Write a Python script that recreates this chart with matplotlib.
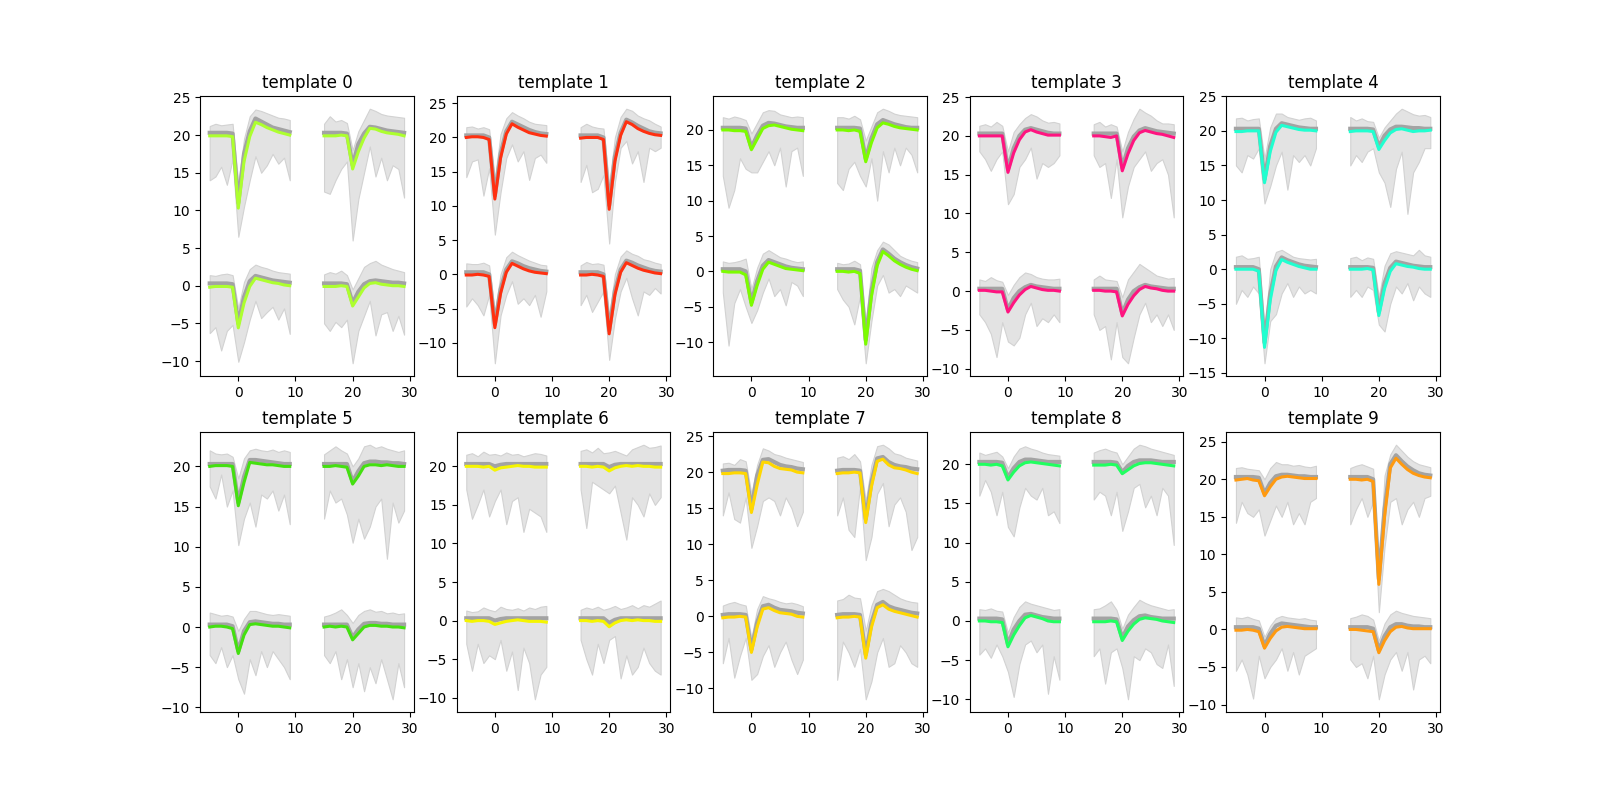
import numpy as np
import matplotlib
matplotlib.use("Agg")
import matplotlib.pyplot as plt

# sample times of one waveform window
t = [-5, -4, -3, -2, -1, 0, 1, 2, 3, 4, 5, 6, 7, 8, 9]

# channel placement (x shift, y shift) for the 4 channels
ch_dx = [0, 20, 0, 20]
ch_dy = [20, 20, 0, 0]

colors = ["#adff2f", "#ff3010", "#7cfc00", "#ff1480", "#20ffd0",
          "#44e010", "#f5f500", "#ffd700", "#20ff60", "#ff9a10"]

# template 0
wave_0 = [[-0.1, -0.1, -0.1, -0.1, -0.2, -9.7, -3.5, -0.2, 1.7, 1.4, 1.0, 0.7, 0.4, 0.2, 0.0],
          [-0.1, -0.1, -0.1, 0.0, -0.1, -4.5, -2.2, -0.4, 0.9, 0.8, 0.5, 0.3, 0.2, 0.1, -0.1],
          [-0.2, -0.1, -0.1, -0.1, -0.2, -5.6, -2.3, -0.1, 1.0, 0.8, 0.6, 0.4, 0.3, 0.1, 0.0],
          [-0.1, -0.1, -0.1, 0.0, -0.1, -2.7, -1.5, -0.3, 0.3, 0.4, 0.2, 0.1, 0.0, 0.0, -0.1]]
mean_0 = [[0.3, 0.3, 0.3, 0.3, 0.2, -9.0, -2.5, 0.5, 2.2, 1.8, 1.4, 1.0, 0.8, 0.6, 0.4],
          [0.3, 0.3, 0.3, 0.3, 0.2, -4.0, -1.2, 0.2, 1.1, 1.0, 0.8, 0.6, 0.5, 0.4, 0.3],
          [0.3, 0.3, 0.3, 0.3, 0.2, -5.0, -1.5, 0.6, 1.3, 1.1, 0.9, 0.7, 0.6, 0.5, 0.4],
          [0.3, 0.3, 0.3, 0.3, 0.2, -2.3, -0.8, 0.2, 0.6, 0.7, 0.6, 0.5, 0.4, 0.4, 0.3]]
low_0 = [[-6.0, -5.5, -4.2, -6.6, -3.2, -13.5, -9.5, -6.0, -2.8, -5.0, -4.0, -2.5, -3.8, -3.0, -6.0],
         [-7.5, -7.8, -6.0, -4.5, -3.5, -14.0, -8.5, -5.0, -1.5, -5.5, -3.0, -6.0, -4.0, -4.5, -8.3],
         [-6.3, -5.5, -8.6, -6.0, -5.2, -10.1, -7.5, -4.5, -2.0, -4.3, -3.5, -2.8, -4.5, -3.0, -6.4],
         [-5.0, -6.0, -4.8, -5.5, -4.5, -10.3, -6.0, -4.0, -2.0, -6.6, -3.8, -3.5, -6.0, -4.0, -6.5]]
high_0 = [[1.2, 1.5, 1.3, 1.4, 1.5, -6.5, -0.5, 2.5, 3.4, 3.2, 2.9, 2.6, 2.3, 2.2, 2.0],
          [1.5, 2.5, 1.8, 2.0, 1.6, -2.0, 0.5, 2.0, 3.5, 3.2, 2.8, 2.6, 2.5, 2.4, 2.3],
          [1.4, 1.3, 1.5, 1.6, 1.4, -3.0, 0.5, 2.2, 2.8, 2.5, 2.3, 2.0, 1.8, 1.7, 1.6],
          [1.5, 1.8, 1.6, 2.0, 1.4, -0.5, 1.0, 2.5, 3.0, 3.3, 2.8, 2.5, 2.2, 2.0, 1.8]]

# template 1
wave_1 = [[0.0, 0.1, 0.1, 0.0, -0.3, -9.0, -3.0, 0.5, 2.0, 1.5, 1.1, 0.7, 0.5, 0.3, 0.2],
          [-0.1, 0.0, 0.0, 0.0, -0.3, -10.5, -3.5, 0.3, 2.3, 1.9, 1.3, 0.9, 0.6, 0.4, 0.3],
          [-0.1, -0.1, 0.0, -0.1, -0.3, -7.8, -2.8, 0.3, 1.6, 1.2, 0.8, 0.5, 0.3, 0.2, 0.1],
          [-0.1, -0.1, 0.0, -0.1, -0.3, -8.7, -3.0, 0.3, 1.7, 1.3, 0.9, 0.6, 0.4, 0.2, 0.1]]
mean_1 = [[0.3, 0.3, 0.3, 0.3, 0.0, -8.5, -2.4, 0.9, 2.3, 1.9, 1.5, 1.1, 0.8, 0.6, 0.5],
          [0.3, 0.3, 0.3, 0.3, 0.0, -9.9, -2.8, 0.7, 2.6, 2.2, 1.7, 1.3, 0.9, 0.7, 0.6],
          [0.3, 0.3, 0.3, 0.3, 0.0, -7.3, -2.2, 0.7, 1.9, 1.6, 1.2, 0.9, 0.7, 0.5, 0.4],
          [0.3, 0.3, 0.3, 0.3, 0.0, -8.2, -2.4, 0.7, 2.0, 1.7, 1.3, 1.0, 0.7, 0.5, 0.4]]
low_1 = [[-5.8, -3.5, -3.2, -8.5, -4.5, -14.2, -8.0, -3.0, -1.0, -3.5, -2.0, -6.2, -3.0, -2.5, -3.7],
         [-6.5, -4.0, -8.0, -7.5, -5.5, -15.5, -6.5, -1.5, -0.5, -3.8, -2.0, -6.5, -1.5, -2.0, -1.5],
         [-4.7, -3.5, -4.5, -6.0, -3.0, -13.0, -6.0, -3.0, -1.0, -4.3, -3.5, -4.5, -3.0, -6.2, -2.5],
         [-4.5, -3.0, -5.5, -4.0, -2.5, -12.5, -6.5, -2.5, -0.5, -3.5, -6.0, -2.5, -3.0, -2.0, -2.8]]
high_1 = [[1.5, 1.6, 1.3, 1.5, 1.2, -6.0, 0.5, 2.8, 3.7, 3.2, 2.8, 2.3, 2.0, 1.9, 1.8],
          [1.5, 2.0, 1.6, 1.4, 1.3, -7.0, 0.0, 3.0, 4.2, 3.9, 3.2, 2.8, 2.5, 2.0, 1.6],
          [1.6, 1.5, 1.5, 1.7, 1.3, -5.5, 0.0, 2.5, 3.3, 2.8, 2.4, 2.0, 1.7, 1.4, 1.3],
          [1.3, 1.8, 1.5, 1.6, 1.4, -6.0, 0.0, 2.6, 3.5, 3.0, 2.7, 2.2, 2.0, 1.7, 1.5]]

# template 2
wave_2 = [[0.0, 0.0, -0.1, -0.1, -0.2, -2.8, -1.3, 0.2, 0.6, 0.7, 0.5, 0.3, 0.1, 0.0, -0.1],
          [0.0, 0.0, -0.1, 0.0, -0.2, -4.5, -1.8, 0.3, 1.0, 0.8, 0.5, 0.3, 0.2, 0.1, 0.0],
          [0.0, -0.1, -0.1, -0.1, -0.5, -4.8, -2.0, 0.3, 1.3, 1.0, 0.7, 0.4, 0.3, 0.2, 0.1],
          [0.0, 0.0, -0.1, 0.0, -0.3, -10.3, -3.5, 0.8, 2.8, 2.2, 1.5, 1.0, 0.6, 0.3, 0.1]]
mean_2 = [[0.3, 0.3, 0.3, 0.3, 0.2, -2.5, -0.8, 0.6, 1.0, 0.9, 0.7, 0.5, 0.4, 0.3, 0.3],
          [0.3, 0.3, 0.3, 0.3, 0.2, -4.1, -1.2, 0.8, 1.4, 1.1, 0.8, 0.6, 0.4, 0.3, 0.3],
          [0.3, 0.3, 0.3, 0.3, 0.0, -4.4, -1.4, 0.8, 1.6, 1.3, 1.0, 0.7, 0.5, 0.4, 0.3],
          [0.3, 0.3, 0.3, 0.3, 0.1, -9.7, -2.8, 1.3, 3.1, 2.5, 1.8, 1.3, 0.9, 0.6, 0.4]]
low_2 = [[-6.5, -11.0, -8.5, -4.0, -5.5, -6.0, -6.0, -4.5, -3.0, -5.0, -2.5, -8.0, -3.0, -2.5, -6.5],
         [-7.5, -8.5, -5.5, -4.5, -6.5, -8.0, -4.0, -10.0, -3.0, -6.0, -2.5, -5.0, -2.5, -3.5, -6.0],
         [-3.0, -10.5, -4.5, -2.5, -5.0, -7.3, -5.5, -3.0, -1.0, -3.5, -2.5, -4.8, -1.5, -2.0, -3.5],
         [-2.5, -4.0, -5.0, -7.5, -3.5, -13.0, -7.0, -2.0, -0.5, -3.0, -2.5, -3.5, -2.0, -2.5, -3.0]]
high_2 = [[1.8, 1.6, 1.9, 1.7, 1.4, -0.5, 1.0, 2.5, 2.8, 2.7, 2.2, 2.0, 1.8, 1.9, 1.8],
          [1.8, 1.8, 1.6, 2.0, 1.5, -1.5, 0.5, 2.5, 3.0, 2.7, 2.3, 2.1, 2.0, 1.9, 1.8],
          [1.4, 1.2, 1.3, 1.5, 1.8, -2.5, 0.5, 2.5, 3.0, 2.5, 2.0, 1.8, 1.5, 1.3, 1.4],
          [1.2, 1.0, 1.1, 1.5, 1.0, -7.5, 0.5, 3.0, 4.2, 3.8, 3.0, 2.2, 1.8, 1.5, 1.3]]

# template 3
wave_3 = [[0.0, 0.0, 0.0, 0.0, 0.0, -4.7, -2.2, -0.5, 0.5, 0.8, 0.5, 0.3, 0.1, 0.1, 0.1],
          [0.0, 0.0, -0.1, -0.2, 0.0, -4.5, -2.3, -0.6, 0.4, 0.7, 0.5, 0.3, 0.2, 0.0, -0.2],
          [0.1, 0.1, 0.0, -0.1, -0.1, -2.7, -1.5, -0.5, 0.2, 0.6, 0.4, 0.2, 0.1, 0.1, 0.0],
          [0.1, 0.1, 0.0, 0.0, -0.1, -3.2, -1.7, -0.6, 0.2, 0.6, 0.4, 0.3, 0.1, 0.0, 0.0]]
mean_3 = [[0.3, 0.3, 0.3, 0.3, 0.3, -4.3, -1.6, 0.0, 0.8, 1.0, 0.8, 0.6, 0.4, 0.3, 0.3],
          [0.3, 0.3, 0.3, 0.3, 0.3, -4.1, -1.6, -0.1, 0.7, 1.0, 0.8, 0.6, 0.5, 0.4, 0.3],
          [0.3, 0.3, 0.3, 0.3, 0.3, -2.4, -0.9, 0.0, 0.5, 0.8, 0.6, 0.5, 0.4, 0.3, 0.3],
          [0.3, 0.3, 0.3, 0.3, 0.3, -2.9, -1.1, 0.0, 0.5, 0.8, 0.6, 0.5, 0.4, 0.3, 0.3]]
low_3 = [[-2.0, -3.0, -4.5, -3.0, -2.0, -8.8, -7.5, -4.0, -3.0, -1.5, -5.5, -3.5, -4.0, -3.5, -2.5],
         [-2.5, -4.0, -3.5, -8.0, -3.0, -10.5, -6.5, -4.0, -3.0, -2.0, -4.5, -3.5, -3.0, -5.0, -10.5],
         [-3.0, -4.0, -5.5, -8.5, -4.0, -6.5, -7.0, -6.0, -3.0, -1.5, -4.5, -3.5, -4.0, -3.0, -4.0],
         [-3.0, -5.0, -4.5, -8.8, -4.0, -8.5, -9.3, -6.0, -3.0, -1.5, -4.0, -3.0, -4.5, -3.0, -5.0]]
high_3 = [[1.3, 1.5, 1.2, 1.8, 1.3, -2.0, 0.5, 1.5, 2.3, 2.8, 2.5, 2.0, 1.7, 1.8, 1.6],
          [1.5, 1.8, 1.2, 1.5, 1.2, -2.0, 0.5, 2.2, 3.5, 3.0, 2.6, 2.0, 1.6, 1.6, 1.5],
          [1.5, 1.3, 1.8, 1.4, 1.2, -0.5, 0.8, 1.8, 2.4, 2.2, 1.8, 1.6, 1.5, 1.5, 1.6],
          [1.5, 2.0, 1.5, 1.4, 1.3, -0.8, 1.5, 2.5, 3.5, 3.0, 2.5, 2.0, 1.8, 1.6, 1.7]]

# template 4
wave_4 = [[-0.1, -0.1, 0.0, 0.0, 0.0, -7.5, -3.0, -0.2, 0.8, 0.6, 0.4, 0.2, 0.1, 0.1, 0.0],
          [-0.1, 0.0, 0.0, 0.0, -0.1, -2.7, -1.4, -0.3, 0.2, 0.3, 0.1, -0.1, 0.0, 0.0, 0.1],
          [0.0, 0.0, 0.0, 0.0, -0.3, -11.3, -4.5, -0.2, 1.4, 1.0, 0.7, 0.4, 0.2, 0.0, 0.0],
          [0.0, 0.0, 0.0, 0.1, -0.1, -6.7, -2.8, -0.3, 0.8, 0.6, 0.4, 0.3, 0.1, 0.0, 0.0]]
mean_4 = [[0.3, 0.3, 0.3, 0.3, 0.3, -7.0, -2.2, 0.3, 1.1, 0.9, 0.7, 0.5, 0.4, 0.3, 0.3],
          [0.3, 0.3, 0.3, 0.3, 0.2, -2.3, -0.7, 0.2, 0.6, 0.6, 0.5, 0.4, 0.4, 0.3, 0.3],
          [0.3, 0.3, 0.3, 0.3, 0.0, -10.6, -3.6, 0.4, 1.7, 1.3, 1.0, 0.7, 0.5, 0.4, 0.3],
          [0.3, 0.3, 0.3, 0.3, 0.2, -6.2, -2.0, 0.2, 1.1, 0.9, 0.7, 0.5, 0.4, 0.3, 0.3]]
low_4 = [[-5.0, -6.0, -3.5, -4.0, -2.5, -10.5, -8.0, -5.0, -3.0, -8.5, -3.5, -4.5, -3.5, -5.0, -2.5],
         [-5.0, -3.5, -4.5, -3.0, -2.5, -6.0, -7.5, -11.0, -5.5, -3.0, -12.0, -6.0, -4.5, -2.5, -2.5],
         [-5.0, -3.0, -4.0, -2.5, -3.5, -13.6, -7.5, -6.5, -3.5, -2.0, -4.0, -2.5, -3.5, -3.0, -3.5],
         [-4.0, -3.0, -4.0, -2.5, -3.0, -8.0, -9.0, -5.0, -2.5, -3.5, -2.0, -4.5, -2.5, -3.5, -4.0]]
high_4 = [[1.8, 1.9, 1.5, 1.7, 1.8, -4.0, 0.5, 2.5, 2.5, 2.0, 1.8, 1.6, 1.8, 1.9, 1.5],
          [2.0, 1.5, 1.8, 1.4, 1.3, -1.0, 0.5, 1.5, 2.5, 3.2, 2.8, 2.4, 2.2, 2.3, 2.0],
          [1.8, 2.0, 1.5, 1.6, 1.8, -9.0, 0.0, 2.5, 2.8, 2.3, 1.8, 1.6, 1.5, 1.4, 1.5],
          [1.6, 1.8, 1.3, 1.7, 1.5, -4.0, 0.5, 2.3, 2.6, 2.4, 2.2, 2.0, 2.8, 2.0, 1.8]]

# template 5
wave_5 = [[0.0, 0.1, 0.1, 0.1, 0.0, -4.9, -2.0, 0.5, 0.4, 0.3, 0.2, 0.2, 0.1, 0.0, 0.0],
          [0.0, 0.0, 0.1, 0.0, -0.1, -2.2, -1.2, 0.0, 0.2, 0.2, 0.1, 0.2, 0.1, 0.0, 0.0],
          [0.0, 0.1, 0.1, 0.0, -0.2, -3.3, -1.0, 0.3, 0.4, 0.3, 0.2, 0.1, 0.1, 0.0, -0.1],
          [0.0, 0.1, 0.0, 0.1, 0.0, -1.6, -0.8, 0.0, 0.2, 0.2, 0.1, 0.1, 0.0, 0.0, -0.1]]
mean_5 = [[0.3, 0.3, 0.3, 0.3, 0.3, -4.5, -1.3, 0.8, 0.8, 0.7, 0.6, 0.5, 0.4, 0.3, 0.3],
          [0.3, 0.3, 0.3, 0.3, 0.3, -1.9, -0.6, 0.4, 0.6, 0.6, 0.5, 0.5, 0.4, 0.4, 0.3],
          [0.3, 0.3, 0.3, 0.3, 0.1, -3.0, -0.5, 0.6, 0.7, 0.6, 0.5, 0.4, 0.4, 0.3, 0.3],
          [0.3, 0.3, 0.3, 0.3, 0.3, -1.3, -0.3, 0.4, 0.5, 0.5, 0.4, 0.4, 0.3, 0.3, 0.3]]
low_5 = [[-2.5, -4.0, -1.0, -5.0, -3.0, -9.8, -6.5, -4.5, -7.5, -3.5, -4.0, -3.0, -5.5, -3.5, -7.2],
         [-6.5, -3.0, -4.5, -4.0, -6.0, -9.5, -6.5, -9.0, -7.5, -5.0, -4.0, -11.5, -4.5, -7.0, -5.5],
         [-3.5, -4.5, -2.5, -5.0, -3.5, -6.5, -8.3, -4.0, -6.0, -3.0, -5.0, -3.0, -4.0, -5.0, -6.5],
         [-3.5, -4.5, -3.0, -6.5, -4.0, -7.5, -4.5, -8.0, -5.0, -7.0, -4.0, -6.5, -9.0, -4.5, -7.5]]
high_5 = [[2.0, 1.6, 1.5, 1.6, 1.2, -1.5, 1.0, 2.0, 2.2, 2.0, 1.9, 2.1, 1.8, 2.0, 1.8],
          [1.5, 2.0, 2.5, 2.0, 1.6, 0.0, 1.0, 2.5, 2.7, 2.3, 2.5, 2.2, 2.0, 1.8, 2.0],
          [1.8, 1.6, 1.4, 1.5, 1.3, -0.5, 1.0, 2.0, 2.0, 1.8, 1.6, 1.5, 1.6, 1.5, 1.4],
          [1.3, 1.5, 1.8, 2.2, 1.5, 0.5, 1.5, 2.0, 2.2, 1.9, 2.0, 1.7, 1.8, 1.6, 1.7]]

# template 6
wave_6 = [[0.0, 0.0, 0.0, -0.1, 0.0, -0.5, -0.2, -0.1, 0.0, 0.1, 0.0, 0.0, -0.1, -0.1, -0.1],
          [0.0, 0.0, -0.1, 0.0, -0.1, -0.6, -0.2, 0.0, 0.1, 0.0, 0.1, 0.0, 0.0, -0.1, -0.1],
          [0.0, -0.1, 0.0, 0.0, -0.1, -0.5, -0.3, -0.1, 0.0, 0.1, 0.0, -0.1, -0.1, -0.1, -0.2],
          [0.0, 0.0, -0.1, 0.0, -0.1, -0.8, -0.3, 0.0, 0.1, 0.0, 0.1, 0.0, 0.0, -0.1, -0.1]]
mean_6 = [[0.3, 0.3, 0.3, 0.3, 0.3, 0.0, 0.2, 0.3, 0.3, 0.3, 0.3, 0.3, 0.3, 0.3, 0.3],
          [0.3, 0.3, 0.3, 0.3, 0.3, -0.1, 0.2, 0.3, 0.3, 0.3, 0.3, 0.3, 0.3, 0.3, 0.3],
          [0.3, 0.3, 0.3, 0.3, 0.3, 0.0, 0.2, 0.3, 0.3, 0.3, 0.3, 0.3, 0.3, 0.3, 0.3],
          [0.3, 0.3, 0.3, 0.3, 0.3, -0.3, 0.1, 0.3, 0.3, 0.3, 0.3, 0.3, 0.3, 0.3, 0.3]]
low_6 = [[-3.0, -6.8, -5.0, -3.0, -6.5, -4.5, -3.0, -7.5, -4.5, -4.0, -8.5, -5.5, -6.0, -6.5, -8.5],
         [-3.0, -8.0, -2.0, -2.5, -3.0, -3.5, -2.5, -6.0, -9.5, -4.0, -5.0, -6.5, -3.5, -5.0, -4.0],
         [-3.0, -6.5, -3.0, -5.5, -4.5, -5.0, -2.5, -6.5, -4.0, -9.0, -3.5, -5.5, -10.2, -7.0, -6.0],
         [-2.5, -5.0, -7.0, -3.0, -5.5, -2.5, -2.0, -7.5, -4.5, -7.0, -6.0, -3.5, -5.5, -6.5, -7.0]]
high_6 = [[1.5, 1.7, 1.3, 1.9, 1.5, 1.6, 1.4, 1.8, 1.5, 1.6, 1.3, 1.5, 1.7, 1.6, 1.4],
          [2.0, 2.2, 1.8, 2.4, 1.7, 1.8, 2.0, 1.7, 1.4, 2.2, 2.5, 2.8, 2.4, 2.5, 2.7],
          [1.3, 1.1, 1.2, 1.7, 1.4, 1.2, 1.8, 1.5, 1.4, 1.6, 1.3, 1.7, 1.5, 1.8, 1.9],
          [1.4, 1.7, 1.5, 1.8, 1.4, 1.6, 1.9, 1.5, 1.7, 2.0, 1.6, 2.0, 1.8, 2.2, 2.6]]

# template 7
wave_7 = [[-0.2, -0.2, -0.1, -0.1, -0.2, -5.6, -1.8, 1.4, 1.3, 0.8, 0.5, 0.4, 0.3, 0.0, -0.1],
          [-0.2, -0.1, -0.1, 0.0, -0.1, -7.0, -2.0, 1.5, 1.8, 1.0, 0.6, 0.5, 0.3, 0.0, -0.2],
          [-0.2, -0.1, -0.1, 0.0, -0.1, -5.0, -1.5, 1.0, 1.2, 0.8, 0.5, 0.4, 0.3, 0.0, -0.1],
          [-0.2, -0.1, -0.1, 0.0, -0.1, -5.8, -1.5, 1.2, 1.6, 1.0, 0.7, 0.5, 0.3, 0.1, -0.1]]
mean_7 = [[0.2, 0.3, 0.3, 0.3, 0.2, -5.1, -0.5, 1.7, 1.8, 1.4, 1.0, 0.8, 0.7, 0.5, 0.4],
          [0.2, 0.3, 0.3, 0.3, 0.2, -6.5, -1.4, 1.9, 2.1, 1.4, 1.0, 0.8, 0.7, 0.5, 0.4],
          [0.2, 0.3, 0.3, 0.3, 0.2, -4.6, -0.9, 1.4, 1.6, 1.2, 0.9, 0.8, 0.7, 0.5, 0.4],
          [0.2, 0.3, 0.3, 0.3, 0.2, -5.3, -0.9, 1.6, 2.0, 1.4, 1.1, 0.9, 0.7, 0.5, 0.4]]
low_7 = [[-6.0, -2.8, -6.5, -7.0, -3.5, -10.5, -7.5, -4.0, -3.5, -4.0, -6.0, -3.5, -5.0, -7.5, -5.5],
         [-6.0, -3.5, -8.0, -9.0, -2.0, -12.2, -9.0, -3.0, -1.5, -7.5, -4.5, -3.5, -5.5, -10.8, -9.0],
         [-6.5, -3.0, -8.5, -5.5, -3.0, -8.8, -8.0, -5.5, -4.0, -7.0, -5.0, -3.5, -6.0, -8.0, -6.0],
         [-8.8, -3.5, -5.0, -7.0, -4.5, -11.5, -9.0, -5.0, -3.0, -7.0, -6.5, -4.0, -5.0, -6.5, -7.0]]
high_7 = [[1.2, 1.3, 1.0, 1.8, 1.5, -3.0, 1.0, 3.3, 3.0, 2.5, 2.3, 2.0, 1.8, 1.6, 1.4],
          [2.0, 2.2, 1.8, 2.5, 1.5, -4.0, 1.0, 3.6, 3.8, 3.3, 2.6, 2.4, 2.0, 1.8, 1.6],
          [1.5, 1.8, 2.0, 1.7, 1.5, -3.0, 1.0, 2.8, 2.5, 2.3, 2.0, 1.8, 1.9, 1.7, 1.4],
          [2.2, 2.4, 3.0, 2.6, 2.5, -2.0, 1.5, 3.5, 3.8, 3.5, 3.0, 2.5, 2.2, 2.0, 1.9]]

# template 8
wave_8 = [[0.0, 0.0, -0.1, 0.0, -0.2, -2.0, -1.0, -0.2, 0.2, 0.3, 0.2, 0.1, 0.0, -0.1, -0.2],
          [-0.1, -0.1, -0.1, 0.0, -0.1, -1.2, -0.7, -0.2, 0.1, 0.2, 0.2, 0.1, 0.0, -0.1, -0.2],
          [0.0, 0.0, -0.1, -0.1, -0.2, -3.3, -1.8, -0.6, 0.4, 0.7, 0.5, 0.3, 0.0, -0.1, -0.1],
          [-0.1, -0.1, -0.1, 0.0, -0.1, -2.5, -1.3, -0.4, 0.2, 0.4, 0.3, 0.2, 0.0, -0.1, -0.2]]
mean_8 = [[0.3, 0.3, 0.3, 0.3, 0.2, -1.7, -0.5, 0.3, 0.6, 0.6, 0.5, 0.4, 0.3, 0.3, 0.3],
          [0.3, 0.3, 0.3, 0.3, 0.2, -1.0, -0.2, 0.3, 0.5, 0.5, 0.5, 0.4, 0.3, 0.3, 0.3],
          [0.3, 0.3, 0.3, 0.3, 0.2, -3.0, -1.1, 0.0, 0.8, 0.9, 0.7, 0.5, 0.4, 0.3, 0.3],
          [0.3, 0.3, 0.3, 0.3, 0.2, -2.2, -0.7, 0.1, 0.6, 0.7, 0.5, 0.4, 0.3, 0.3, 0.3]]
low_8 = [[-4.0, -2.0, -3.5, -6.5, -3.5, -8.0, -9.2, -5.5, -3.0, -4.0, -4.5, -3.0, -6.5, -6.0, -7.5],
         [-4.5, -3.5, -4.0, -6.5, -3.5, -8.5, -6.0, -3.0, -2.5, -5.5, -4.0, -6.5, -3.0, -4.0, -10.3],
         [-4.3, -3.5, -4.7, -3.0, -4.5, -6.5, -9.7, -5.5, -3.0, -2.5, -4.0, -3.0, -9.3, -4.5, -7.5],
         [-4.5, -3.5, -8.0, -4.0, -3.5, -6.0, -10.0, -4.5, -5.0, -3.5, -4.0, -5.5, -6.0, -3.0, -8.3]]
high_8 = [[1.5, 1.2, 1.4, 1.6, 1.0, -0.5, 1.0, 2.0, 2.3, 2.0, 1.8, 1.5, 1.3, 1.2, 1.1],
          [1.5, 1.8, 2.0, 1.7, 1.5, 0.0, 1.0, 2.0, 2.5, 2.3, 2.0, 1.8, 1.6, 1.4, 1.2],
          [1.5, 1.4, 1.6, 1.3, 1.2, -1.5, 0.5, 1.8, 2.5, 2.2, 2.0, 1.8, 1.6, 1.4, 1.5],
          [1.5, 1.6, 2.0, 2.5, 1.4, -1.0, 0.8, 1.8, 2.7, 2.3, 2.0, 1.8, 1.6, 1.4, 1.5]]

# template 9
wave_9 = [[-0.1, 0.0, 0.1, -0.1, -0.2, -2.2, -1.0, 0.0, 0.3, 0.4, 0.3, 0.2, 0.1, 0.1, 0.1],
          [0.0, 0.0, -0.1, 0.0, -0.3, -14.0, -5.0, 1.5, 2.8, 2.0, 1.3, 0.8, 0.5, 0.3, 0.2],
          [-0.1, -0.1, 0.0, -0.1, -0.3, -2.5, -1.2, -0.2, 0.3, 0.4, 0.3, 0.2, 0.1, 0.1, 0.1],
          [0.0, 0.0, -0.1, -0.2, -0.3, -3.1, -1.5, -0.3, 0.3, 0.4, 0.2, 0.1, 0.1, 0.1, 0.1]]
mean_9 = [[0.3, 0.3, 0.3, 0.3, 0.2, -1.9, -0.5, 0.4, 0.6, 0.6, 0.5, 0.4, 0.4, 0.3, 0.3],
          [0.3, 0.3, 0.3, 0.3, 0.0, -13.3, -4.0, 2.0, 3.2, 2.4, 1.7, 1.2, 0.8, 0.6, 0.5],
          [0.3, 0.3, 0.3, 0.3, 0.1, -2.2, -0.6, 0.5, 0.8, 0.7, 0.6, 0.5, 0.4, 0.3, 0.3],
          [0.3, 0.3, 0.3, 0.3, 0.1, -2.8, -0.9, 0.3, 0.7, 0.7, 0.5, 0.4, 0.4, 0.3, 0.3]]
low_9 = [[-5.8, -3.0, -4.5, -5.0, -4.0, -7.5, -5.5, -3.5, -5.0, -3.0, -6.0, -4.5, -6.0, -3.0, -2.5],
         [-6.0, -4.0, -2.5, -5.0, -3.0, -17.7, -9.0, -3.0, -2.5, -6.0, -4.0, -3.0, -5.0, -2.5, -2.2],
         [-5.5, -4.0, -6.0, -9.2, -3.5, -6.5, -5.0, -4.0, -2.5, -5.5, -3.0, -6.0, -3.5, -3.0, -2.5],
         [-4.0, -5.0, -4.5, -6.5, -3.5, -9.3, -6.0, -4.0, -3.0, -5.5, -3.0, -8.0, -4.0, -3.5, -4.5]]
high_9 = [[1.5, 1.6, 1.4, 1.3, 1.2, 0.0, 1.5, 2.3, 2.0, 2.0, 1.8, 1.9, 1.7, 1.6, 1.8],
          [1.5, 1.8, 2.0, 1.7, 1.4, -12.0, 0.5, 3.3, 4.6, 3.8, 3.0, 2.4, 2.0, 1.8, 1.6],
          [1.6, 1.5, 1.7, 1.4, 1.2, -1.0, 0.5, 1.5, 1.8, 1.6, 1.5, 1.4, 1.5, 1.3, 1.2],
          [1.5, 1.7, 2.0, 1.8, 1.3, -1.5, 0.8, 2.0, 2.5, 2.2, 2.0, 1.8, 1.7, 1.6, 1.5]]

waves = [wave_0, wave_1, wave_2, wave_3, wave_4, wave_5, wave_6, wave_7, wave_8, wave_9]
means = [mean_0, mean_1, mean_2, mean_3, mean_4, mean_5, mean_6, mean_7, mean_8, mean_9]
lows = [low_0, low_1, low_2, low_3, low_4, low_5, low_6, low_7, low_8, low_9]
highs = [high_0, high_1, high_2, high_3, high_4, high_5, high_6, high_7, high_8, high_9]

fig, axes = plt.subplots(2, 5, figsize=(16, 8), dpi=100)

tt = np.array(t)
for k, ax in enumerate(axes.flat):
    for ch in range(4):
        x = tt + ch_dx[ch]
        dy = ch_dy[ch]
        ax.fill_between(x, np.array(lows[k][ch]) + dy, np.array(highs[k][ch]) + dy,
                        facecolor="#e3e3e3", edgecolor="#d2d2d2", linewidth=0.8)
        ax.plot(x, np.array(means[k][ch]) + dy, color="#a3a3a3", linewidth=3)
        ax.plot(x, np.array(waves[k][ch]) + dy, color=colors[k], linewidth=2.2)
    ax.set_title("template %d" % k)
    ax.set_xticks([0, 10, 20, 30])

fig.savefig("out.png")
